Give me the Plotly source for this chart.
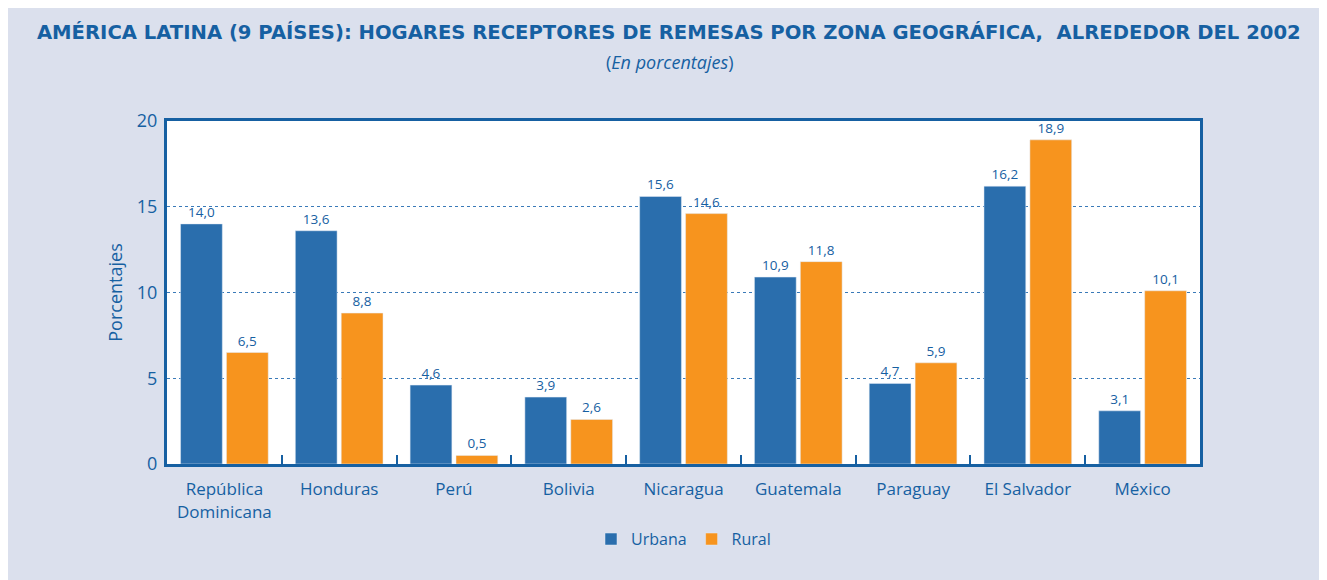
import plotly.graph_objects as go

categories = ["República<br>Dominicana", "Honduras", "Perú", "Bolivia", "Nicaragua",
              "Guatemala", "Paraguay", "El Salvador", "México"]
urbana = [14.0, 13.6, 4.6, 3.9, 15.6, 10.9, 4.7, 16.2, 3.1]
rural = [6.5, 8.8, 0.5, 2.6, 14.6, 11.8, 5.9, 18.9, 10.1]
y_ticks = [0, 5, 10, 15, 20]

BLUE = "#2a6ead"
ORANGE = "#f7941e"
TXT = "#1660a2"
BG = "#dbe0ed"
FONT = "Open Sans"

def fmt(v):
    return f"{v:.1f}".replace(".", ",")

fig = go.Figure()
fig.add_trace(go.Bar(x=categories, y=urbana, name="Urbana", marker_color=BLUE,
                     text=[fmt(v) for v in urbana], textposition="outside",
                     textfont=dict(color=TXT, size=13.5, family=FONT), cliponaxis=False))
fig.add_trace(go.Bar(x=categories, y=rural, name="Rural", marker_color=ORANGE,
                     text=[fmt(v) for v in rural], textposition="outside",
                     textfont=dict(color=TXT, size=13.5, family=FONT), cliponaxis=False))

fig.update_layout(
    width=1327, height=580,
    paper_bgcolor=BG, plot_bgcolor="white",
    margin=dict(l=159, r=135, t=113, b=124),
    barmode="group", bargap=0.2, bargroupgap=0.09,
    font=dict(family=FONT, color=TXT),
    title=dict(
        text="<b>AMÉRICA LATINA (9 PAÍSES): HOGARES RECEPTORES DE REMESAS POR ZONA GEOGRÁFICA,  ALREDEDOR DEL 2002</b>",
        x=0.498, xref="container", xanchor="center",
        y=1 - 24 / 580, yref="container", yanchor="middle",
        font=dict(size=19.6, color=TXT, family="DejaVu Sans")),
    annotations=[dict(text="(<i>En porcentajes</i>)", xref="paper", yref="paper",
                      x=0.486, y=1.172, xanchor="center", yanchor="middle", showarrow=False,
                      font=dict(size=18, color=TXT, family=FONT))],
    legend=dict(orientation="h", x=0.5, xanchor="center", y=-0.219, yanchor="middle",
                font=dict(size=16, color=TXT, family=FONT), traceorder="normal",
                itemwidth=30),
    showlegend=True,
)
fig.update_xaxes(showline=True, linecolor=TXT, linewidth=3, mirror=True,
                 ticks="inside", tickson="boundaries", ticklen=9, tickcolor=TXT, tickwidth=2,
                 ticklabelstandoff=8,
                 tickfont=dict(size=17, color=TXT, family=FONT))
fig.update_yaxes(range=[0, 20], tickvals=y_ticks, showline=True, linecolor=TXT, linewidth=3,
                 mirror=True, showgrid=True, gridcolor="#3a7ab8", griddash="dot", gridwidth=1.3,
                 zeroline=False, ticks="", ticklabelstandoff=3,
                 tickfont=dict(size=18, color=TXT, family=FONT),
                 title=dict(text="Porcentajes", font=dict(size=18, color=TXT, family=FONT), standoff=10))

fig.write_html("out.html")
